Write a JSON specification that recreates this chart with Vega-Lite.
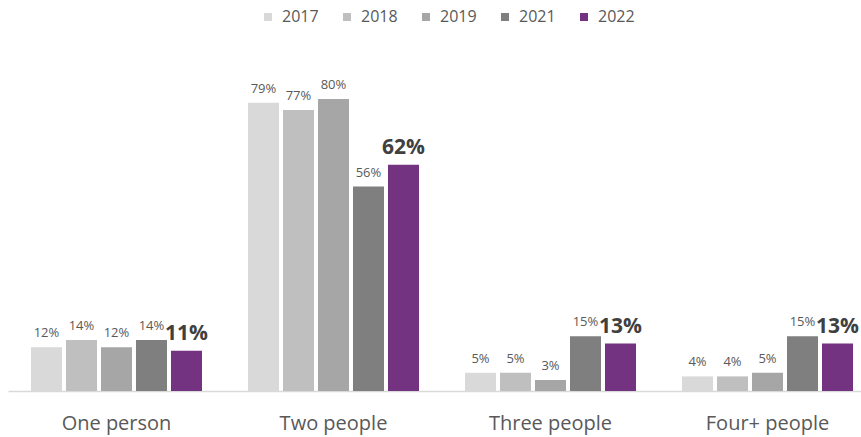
{
  "$schema": "https://vega.github.io/schema/vega-lite/v6.json",
  "width": 853,
  "height": 365,
  "autosize": "none",
  "padding": {"left": 8, "top": 26, "right": 0, "bottom": 46},
  "background": "white",
  "config": {"view": {"stroke": null}, "font": "Open Sans"},
  "data": {
    "values": [
      {"group": "One person", "year": "2017", "value": 12},
      {"group": "One person", "year": "2018", "value": 14},
      {"group": "One person", "year": "2019", "value": 12},
      {"group": "One person", "year": "2021", "value": 14},
      {"group": "One person", "year": "2022", "value": 11},
      {"group": "Two people", "year": "2017", "value": 79},
      {"group": "Two people", "year": "2018", "value": 77},
      {"group": "Two people", "year": "2019", "value": 80},
      {"group": "Two people", "year": "2021", "value": 56},
      {"group": "Two people", "year": "2022", "value": 62},
      {"group": "Three people", "year": "2017", "value": 5},
      {"group": "Three people", "year": "2018", "value": 5},
      {"group": "Three people", "year": "2019", "value": 3},
      {"group": "Three people", "year": "2021", "value": 15},
      {"group": "Three people", "year": "2022", "value": 13},
      {"group": "Four+ people", "year": "2017", "value": 4},
      {"group": "Four+ people", "year": "2018", "value": 4},
      {"group": "Four+ people", "year": "2019", "value": 5},
      {"group": "Four+ people", "year": "2021", "value": 15},
      {"group": "Four+ people", "year": "2022", "value": 13}
    ]
  },
  "encoding": {
    "x": {
      "field": "group", "type": "nominal", "sort": null,
      "scale": {"paddingInner": 0.212, "paddingOuter": 0.0714, "align": 0.742},
      "axis": {
        "title": null, "labelAngle": 0, "labelFontSize": 20, "labelColor": "#595959",
        "labelPadding": 22, "ticks": false, "domainColor": "#d9d9d9", "domainWidth": 1.5
      }
    },
    "xOffset": {
      "field": "year", "type": "nominal",
      "scale": {"paddingInner": 0.114, "paddingOuter": 0}
    },
    "y": {
      "field": "value", "type": "quantitative",
      "scale": {"domain": [0, 100]},
      "axis": null
    }
  },
  "layer": [
    {
      "mark": {"type": "bar"},
      "encoding": {
        "color": {
          "field": "year", "type": "nominal",
          "scale": {
            "domain": ["2017", "2018", "2019", "2021", "2022"],
            "range": ["#d9d9d9", "#bfbfbf", "#a6a6a6", "#7f7f7f", "#733380"]
          },
          "legend": {
            "title": null, "orient": "none", "direction": "horizontal",
            "legendX": 252, "legendY": -17,
            "symbolType": "square", "symbolSize": 64, "symbolStrokeWidth": 0,
            "labelFontSize": 16, "labelColor": "#595959", "labelOffset": 6,
            "columnPadding": 20
          }
        }
      }
    },
    {
      "transform": [{"filter": "datum.year != '2022'"}, {"calculate": "datum.value + '%'", "as": "lbl"}],
      "mark": {"type": "text", "baseline": "bottom", "dy": -7, "fontSize": 13, "fill": "#595959"},
      "encoding": {"text": {"field": "lbl"}}
    },
    {
      "transform": [{"filter": "datum.year == '2022'"}, {"calculate": "datum.value + '%'", "as": "lbl"}],
      "mark": {"type": "text", "baseline": "bottom", "dy": -7, "fontSize": 21, "fontWeight": "bold", "fill": "#404040"},
      "encoding": {"text": {"field": "lbl"}}
    }
  ]
}
